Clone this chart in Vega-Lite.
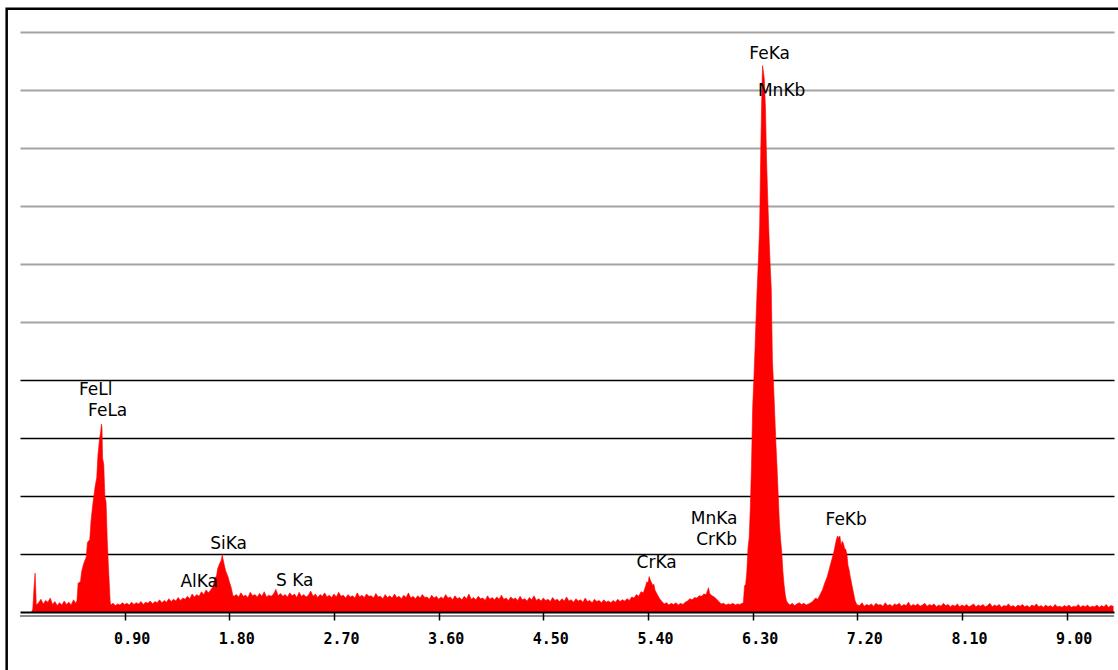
{
  "$schema": "https://vega.github.io/schema/vega-lite/v6.json",
  "width": 1094,
  "height": 580,
  "autosize": {"type": "none"},
  "padding": {"left": 20, "top": 32, "right": 4, "bottom": 58},
  "background": "#ffffff",
  "config": {"view": {"stroke": null}},
  "datasets": {
    "spectrum": [
      {"e":0.10,"c":0},{"e":0.11,"c":5},{"e":0.12,"c":40},{"e":0.13,"c":67},{"e":0.14,"c":12},{"e":0.16,"c":16},{"e":0.18,"c":22},{"e":0.20,"c":14},{"e":0.22,"c":20},{"e":0.24,"c":17},{"e":0.26,"c":24},{"e":0.28,"c":13},{"e":0.30,"c":18},{"e":0.32,"c":11},{"e":0.34,"c":16},{"e":0.36,"c":12},{"e":0.38,"c":19},{"e":0.40,"c":13},{"e":0.42,"c":17},{"e":0.44,"c":12},{"e":0.46,"c":21},{"e":0.48,"c":15},{"e":0.49,"c":20},
      {"e":0.50,"c":50},{"e":0.52,"c":52},{"e":0.53,"c":70},{"e":0.55,"c":85},{"e":0.57,"c":95},{"e":0.58,"c":120},{"e":0.60,"c":125},{"e":0.61,"c":155},{"e":0.62,"c":175},{"e":0.63,"c":192},{"e":0.645,"c":215},{"e":0.66,"c":232},{"e":0.67,"c":270},{"e":0.685,"c":300},{"e":0.695,"c":312},{"e":0.70,"c":324},{"e":0.705,"c":318},{"e":0.71,"c":265},{"e":0.72,"c":255},{"e":0.73,"c":198},{"e":0.74,"c":190},{"e":0.75,"c":125},{"e":0.76,"c":80},{"e":0.77,"c":40},{"e":0.775,"c":19},{"e":0.78,"c":12},
      {"e":0.80,"c":15},{"e":0.82,"c":11},{"e":0.84,"c":14},{"e":0.86,"c":12},{"e":0.88,"c":16},{"e":0.90,"c":13},{"e":0.92,"c":15},{"e":0.94,"c":12},{"e":0.96,"c":17},{"e":0.98,"c":13},{"e":1.00,"c":16},{"e":1.02,"c":14},{"e":1.04,"c":18},{"e":1.06,"c":13},{"e":1.08,"c":17},{"e":1.10,"c":15},{"e":1.12,"c":19},{"e":1.14,"c":14},{"e":1.16,"c":18},{"e":1.18,"c":16},{"e":1.20,"c":21},{"e":1.22,"c":16},{"e":1.24,"c":20},{"e":1.26,"c":17},{"e":1.28,"c":23},{"e":1.30,"c":18},{"e":1.32,"c":22},{"e":1.34,"c":19},{"e":1.36,"c":25},{"e":1.38,"c":20},{"e":1.40,"c":24},{"e":1.42,"c":22},{"e":1.44,"c":27},{"e":1.46,"c":23},{"e":1.48,"c":31},{"e":1.50,"c":26},{"e":1.52,"c":30},{"e":1.54,"c":27},{"e":1.56,"c":35},{"e":1.58,"c":30},{"e":1.60,"c":38},{"e":1.62,"c":33},{"e":1.64,"c":38},{"e":1.66,"c":44},
      {"e":1.675,"c":58},{"e":1.69,"c":62},{"e":1.70,"c":75},{"e":1.72,"c":85},{"e":1.73,"c":89},{"e":1.74,"c":99},{"e":1.745,"c":92},{"e":1.76,"c":78},{"e":1.77,"c":70},{"e":1.79,"c":60},{"e":1.80,"c":52},{"e":1.815,"c":43},{"e":1.83,"c":29},{"e":1.84,"c":27},
      {"e":1.86,"c":30},{"e":1.88,"c":26},{"e":1.90,"c":33},{"e":1.92,"c":27},{"e":1.94,"c":29},{"e":1.96,"c":25},{"e":1.98,"c":34},{"e":2.00,"c":28},{"e":2.02,"c":30},{"e":2.04,"c":26},{"e":2.06,"c":32},{"e":2.08,"c":27},{"e":2.10,"c":35},{"e":2.12,"c":26},{"e":2.14,"c":29},{"e":2.16,"c":27},{"e":2.18,"c":31},{"e":2.20,"c":39},{"e":2.22,"c":28},{"e":2.24,"c":32},{"e":2.26,"c":27},{"e":2.28,"c":30},{"e":2.30,"c":26},{"e":2.32,"c":33},{"e":2.34,"c":28},{"e":2.36,"c":31},{"e":2.38,"c":25},{"e":2.40,"c":34},{"e":2.42,"c":27},{"e":2.44,"c":30},{"e":2.46,"c":26},{"e":2.48,"c":29},{"e":2.50,"c":36},{"e":2.52,"c":27},{"e":2.54,"c":31},{"e":2.56,"c":25},{"e":2.58,"c":30},{"e":2.60,"c":27},{"e":2.62,"c":33},{"e":2.64,"c":26},{"e":2.66,"c":29},{"e":2.68,"c":25},{"e":2.70,"c":31},{"e":2.72,"c":26},{"e":2.74,"c":34},{"e":2.76,"c":27},{"e":2.78,"c":29},{"e":2.80,"c":24},{"e":2.82,"c":30},{"e":2.84,"c":26},{"e":2.86,"c":28},{"e":2.88,"c":24},{"e":2.90,"c":33},{"e":2.92,"c":26},{"e":2.94,"c":29},{"e":2.96,"c":25},{"e":2.98,"c":31},{"e":3.00,"c":27},
      {"e":3.02,"c":28},{"e":3.04,"c":24},{"e":3.06,"c":32},{"e":3.08,"c":26},{"e":3.10,"c":27},{"e":3.12,"c":23},{"e":3.14,"c":30},{"e":3.16,"c":25},{"e":3.18,"c":28},{"e":3.20,"c":24},{"e":3.22,"c":31},{"e":3.24,"c":25},{"e":3.26,"c":27},{"e":3.28,"c":23},{"e":3.30,"c":29},{"e":3.32,"c":25},{"e":3.34,"c":33},{"e":3.36,"c":24},{"e":3.38,"c":27},{"e":3.40,"c":23},{"e":3.42,"c":28},{"e":3.44,"c":24},{"e":3.46,"c":30},{"e":3.48,"c":25},{"e":3.50,"c":26},{"e":3.52,"c":22},{"e":3.54,"c":29},{"e":3.56,"c":24},{"e":3.58,"c":27},{"e":3.60,"c":22},{"e":3.62,"c":26},{"e":3.64,"c":23},{"e":3.66,"c":30},{"e":3.68,"c":24},{"e":3.70,"c":26},{"e":3.72,"c":21},{"e":3.74,"c":28},{"e":3.76,"c":23},{"e":3.78,"c":25},{"e":3.80,"c":21},{"e":3.82,"c":27},{"e":3.84,"c":23},{"e":3.86,"c":31},{"e":3.88,"c":22},{"e":3.90,"c":25},{"e":3.92,"c":21},{"e":3.94,"c":27},{"e":3.96,"c":23},{"e":3.98,"c":24},{"e":4.00,"c":20},
      {"e":4.02,"c":28},{"e":4.04,"c":22},{"e":4.06,"c":25},{"e":4.08,"c":21},{"e":4.10,"c":26},{"e":4.12,"c":22},{"e":4.14,"c":29},{"e":4.16,"c":22},{"e":4.18,"c":24},{"e":4.20,"c":20},{"e":4.22,"c":26},{"e":4.24,"c":22},{"e":4.26,"c":24},{"e":4.28,"c":20},{"e":4.30,"c":27},{"e":4.32,"c":21},{"e":4.34,"c":23},{"e":4.36,"c":19},{"e":4.38,"c":25},{"e":4.40,"c":21},{"e":4.42,"c":28},{"e":4.44,"c":20},{"e":4.46,"c":23},{"e":4.48,"c":19},{"e":4.50,"c":24},{"e":4.52,"c":20},{"e":4.54,"c":22},{"e":4.56,"c":18},{"e":4.58,"c":25},{"e":4.60,"c":20},{"e":4.62,"c":22},{"e":4.64,"c":18},{"e":4.66,"c":23},{"e":4.68,"c":19},{"e":4.70,"c":26},{"e":4.72,"c":19},{"e":4.74,"c":21},{"e":4.76,"c":17},{"e":4.78,"c":23},{"e":4.80,"c":19},{"e":4.82,"c":21},{"e":4.84,"c":17},{"e":4.86,"c":24},{"e":4.88,"c":18},{"e":4.90,"c":20},{"e":4.92,"c":16},{"e":4.94,"c":22},{"e":4.96,"c":18},{"e":4.98,"c":20},{"e":5.00,"c":16},{"e":5.02,"c":21},{"e":5.04,"c":17},{"e":5.06,"c":19},{"e":5.08,"c":16},{"e":5.10,"c":20},{"e":5.12,"c":17},{"e":5.14,"c":22},{"e":5.16,"c":18},{"e":5.18,"c":21},{"e":5.20,"c":19},
      {"e":5.22,"c":23},{"e":5.24,"c":20},{"e":5.26,"c":26},{"e":5.28,"c":24},{"e":5.30,"c":30},{"e":5.32,"c":27},{"e":5.34,"c":35},{"e":5.36,"c":33},{"e":5.38,"c":45},{"e":5.39,"c":52},{"e":5.40,"c":50},{"e":5.41,"c":61},{"e":5.42,"c":55},{"e":5.43,"c":51},{"e":5.44,"c":46},{"e":5.45,"c":48},{"e":5.46,"c":38},{"e":5.47,"c":34},{"e":5.48,"c":30},{"e":5.50,"c":23},{"e":5.52,"c":18},{"e":5.54,"c":14},{"e":5.56,"c":16},{"e":5.58,"c":12},{"e":5.60,"c":15},{"e":5.62,"c":13},{"e":5.64,"c":16},{"e":5.66,"c":12},{"e":5.68,"c":15},{"e":5.70,"c":13},{"e":5.72,"c":17},{"e":5.74,"c":19},{"e":5.76,"c":23},{"e":5.78,"c":21},{"e":5.80,"c":25},{"e":5.82,"c":24},{"e":5.84,"c":28},{"e":5.86,"c":27},{"e":5.88,"c":31},{"e":5.90,"c":30},{"e":5.92,"c":42},{"e":5.93,"c":32},{"e":5.95,"c":28},{"e":5.97,"c":26},{"e":5.99,"c":22},{"e":6.01,"c":18},{"e":6.03,"c":14},{"e":6.05,"c":15},{"e":6.07,"c":12},{"e":6.09,"c":14},{"e":6.11,"c":13},{"e":6.13,"c":15},{"e":6.15,"c":12},{"e":6.17,"c":14},{"e":6.19,"c":13},{"e":6.21,"c":15},{"e":6.22,"c":16},
      {"e":6.23,"c":45},{"e":6.24,"c":48},{"e":6.25,"c":70},{"e":6.26,"c":110},{"e":6.27,"c":128},{"e":6.28,"c":180},{"e":6.29,"c":253},{"e":6.30,"c":352},{"e":6.31,"c":400},{"e":6.32,"c":452},{"e":6.33,"c":510},{"e":6.34,"c":564},{"e":6.35,"c":610},{"e":6.36,"c":664},{"e":6.37,"c":800},{"e":6.38,"c":906},{"e":6.385,"c":942},{"e":6.39,"c":935},{"e":6.40,"c":919},{"e":6.41,"c":869},{"e":6.42,"c":776},{"e":6.43,"c":710},{"e":6.44,"c":652},{"e":6.45,"c":600},{"e":6.46,"c":557},{"e":6.47,"c":433},{"e":6.48,"c":390},{"e":6.49,"c":340},{"e":6.50,"c":290},{"e":6.51,"c":247},{"e":6.52,"c":200},{"e":6.53,"c":153},{"e":6.54,"c":125},{"e":6.55,"c":103},{"e":6.56,"c":70},{"e":6.57,"c":47},{"e":6.58,"c":30},{"e":6.59,"c":20},{"e":6.60,"c":16},
      {"e":6.62,"c":12},{"e":6.64,"c":15},{"e":6.66,"c":11},{"e":6.68,"c":14},{"e":6.70,"c":16},{"e":6.72,"c":13},{"e":6.74,"c":15},{"e":6.76,"c":12},{"e":6.78,"c":14},{"e":6.80,"c":16},{"e":6.82,"c":19},{"e":6.84,"c":24},{"e":6.86,"c":22},{"e":6.88,"c":30},{"e":6.90,"c":38},{"e":6.92,"c":50},{"e":6.94,"c":60},{"e":6.96,"c":75},{"e":6.98,"c":90},{"e":7.00,"c":105},{"e":7.02,"c":125},{"e":7.03,"c":131},{"e":7.04,"c":128},{"e":7.05,"c":131},{"e":7.06,"c":115},{"e":7.07,"c":122},{"e":7.08,"c":118},{"e":7.09,"c":110},{"e":7.10,"c":108},{"e":7.11,"c":100},{"e":7.12,"c":80},{"e":7.13,"c":72},{"e":7.14,"c":60},{"e":7.15,"c":50},{"e":7.16,"c":40},{"e":7.17,"c":30},{"e":7.18,"c":20},{"e":7.19,"c":15},{"e":7.20,"c":12},
      {"e":7.22,"c":11},{"e":7.24,"c":16},{"e":7.26,"c":10},{"e":7.28,"c":13},{"e":7.30,"c":11},{"e":7.32,"c":14},{"e":7.34,"c":10},{"e":7.36,"c":15},{"e":7.38,"c":12},{"e":7.40,"c":13},{"e":7.42,"c":10},{"e":7.44,"c":16},{"e":7.46,"c":11},{"e":7.48,"c":13},{"e":7.50,"c":10},{"e":7.52,"c":14},{"e":7.54,"c":12},{"e":7.56,"c":15},{"e":7.58,"c":10},{"e":7.60,"c":13},{"e":7.62,"c":11},{"e":7.64,"c":17},{"e":7.66,"c":10},{"e":7.68,"c":13},{"e":7.70,"c":11},{"e":7.72,"c":14},{"e":7.74,"c":10},{"e":7.76,"c":12},{"e":7.78,"c":15},{"e":7.80,"c":10},{"e":7.82,"c":13},{"e":7.84,"c":11},{"e":7.86,"c":14},{"e":7.88,"c":9},{"e":7.90,"c":12},{"e":7.92,"c":10},{"e":7.94,"c":15},{"e":7.96,"c":11},{"e":7.98,"c":13},{"e":8.00,"c":9},
      {"e":8.02,"c":12},{"e":8.04,"c":10},{"e":8.06,"c":14},{"e":8.08,"c":9},{"e":8.10,"c":12},{"e":8.12,"c":10},{"e":8.14,"c":13},{"e":8.16,"c":9},{"e":8.18,"c":11},{"e":8.20,"c":14},{"e":8.22,"c":9},{"e":8.24,"c":12},{"e":8.26,"c":10},{"e":8.28,"c":13},{"e":8.30,"c":9},{"e":8.32,"c":11},{"e":8.34,"c":15},{"e":8.36,"c":9},{"e":8.38,"c":12},{"e":8.40,"c":10},{"e":8.42,"c":13},{"e":8.44,"c":8},{"e":8.46,"c":11},{"e":8.48,"c":10},{"e":8.50,"c":14},{"e":8.52,"c":9},{"e":8.54,"c":11},{"e":8.56,"c":8},{"e":8.58,"c":12},{"e":8.60,"c":10},{"e":8.62,"c":13},{"e":8.64,"c":9},{"e":8.66,"c":11},{"e":8.68,"c":8},{"e":8.70,"c":12},{"e":8.72,"c":10},{"e":8.74,"c":14},{"e":8.76,"c":9},{"e":8.78,"c":11},{"e":8.80,"c":8},{"e":8.82,"c":12},{"e":8.84,"c":9},{"e":8.86,"c":11},{"e":8.88,"c":8},{"e":8.90,"c":13},{"e":8.92,"c":9},{"e":8.94,"c":10},{"e":8.96,"c":8},{"e":8.98,"c":11},{"e":9.00,"c":9},
      {"e":9.02,"c":12},{"e":9.04,"c":8},{"e":9.06,"c":10},{"e":9.08,"c":9},{"e":9.10,"c":13},{"e":9.12,"c":8},{"e":9.14,"c":11},{"e":9.16,"c":9},{"e":9.18,"c":12},{"e":9.20,"c":8},{"e":9.22,"c":10},{"e":9.24,"c":9},{"e":9.26,"c":12},{"e":9.28,"c":8},{"e":9.30,"c":11},{"e":9.32,"c":9},{"e":9.34,"c":13},{"e":9.36,"c":8},{"e":9.38,"c":11},{"e":9.40,"c":10}
    ],
    "labels": [
      {"label":"FeLl","e":0.651,"c":383},
      {"label":"FeLa","e":0.754,"c":347},
      {"label":"AlKa","e":1.541,"c":52},
      {"label":"SiKa","e":1.794,"c":117},
      {"label":"S Ka","e":2.362,"c":53},
      {"label":"CrKa","e":5.474,"c":84},
      {"label":"MnKa","e":5.969,"c":160},
      {"label":"CrKb","e":5.990,"c":124},
      {"label":"FeKa","e":6.446,"c":962},
      {"label":"MnKb","e":6.549,"c":898},
      {"label":"FeKb","e":7.104,"c":159}
    ],
    "frame": [
      {"e0": -0.1146, "e1": 9.9, "c0": 1040, "c1": -150, "base": -7}
    ]
  },
  "layer": [
    {
      "data": {"name": "spectrum"},
      "mark": {"type": "area", "color": "#ff0000", "interpolate": "linear", "stroke": "#ff0000", "strokeWidth": 0.6},
      "encoding": {
        "x": {
          "field": "e", "type": "quantitative",
          "scale": {"domain": [0, 9.407], "nice": false, "zero": false},
          "axis": {
            "values": [0.9, 1.8, 2.7, 3.6, 4.5, 5.4, 6.3, 7.2, 8.1, 9.0],
            "format": ".2f",
            "title": null,
            "grid": false,
            "zindex": 1,
            "domainColor": "#000000",
            "domainWidth": 2,
            "tickColor": "#000000",
            "tickSize": 8,
            "tickWidth": 1.5,
            "labelFont": "DejaVu Sans Mono",
            "labelFontWeight": "bold",
            "labelFontSize": 15,
            "labelColor": "#000000",
            "labelPadding": 11,
            "labelOffset": 7
          }
        },
        "y": {
          "field": "c", "type": "quantitative",
          "scale": {"domain": [0, 1000], "nice": false, "zero": true},
          "axis": {
            "values": [100, 200, 300, 400, 500, 600, 700, 800, 900, 1000],
            "title": null,
            "labels": false,
            "ticks": false,
            "domain": false,
            "grid": true,
            "gridColor": {"condition": {"test": "datum.value <= 400", "value": "#000000"}, "value": "#a3a3a3"},
            "gridWidth": {"condition": {"test": "datum.value <= 400", "value": 1.5}, "value": 2},
            "gridOpacity": 1
          }
        }
      }
    },
    {
      "data": {"name": "frame"},
      "mark": {"type": "rule", "color": "#8c8c8c", "strokeWidth": 2},
      "encoding": {
        "y": {"field": "base", "type": "quantitative"}
      }
    },
    {
      "data": {"name": "labels"},
      "mark": {"type": "text", "font": "DejaVu Sans", "fontSize": 17, "color": "#000000", "align": "center", "baseline": "middle"},
      "encoding": {
        "x": {"field": "e", "type": "quantitative"},
        "y": {"field": "c", "type": "quantitative"},
        "text": {"field": "label"}
      }
    },
    {
      "data": {"name": "frame"},
      "mark": {"type": "rect", "filled": false, "stroke": "#000000", "strokeWidth": 2.5},
      "encoding": {
        "x": {"field": "e0", "type": "quantitative"},
        "x2": {"field": "e1"},
        "y": {"field": "c0", "type": "quantitative"},
        "y2": {"field": "c1"}
      }
    }
  ]
}
